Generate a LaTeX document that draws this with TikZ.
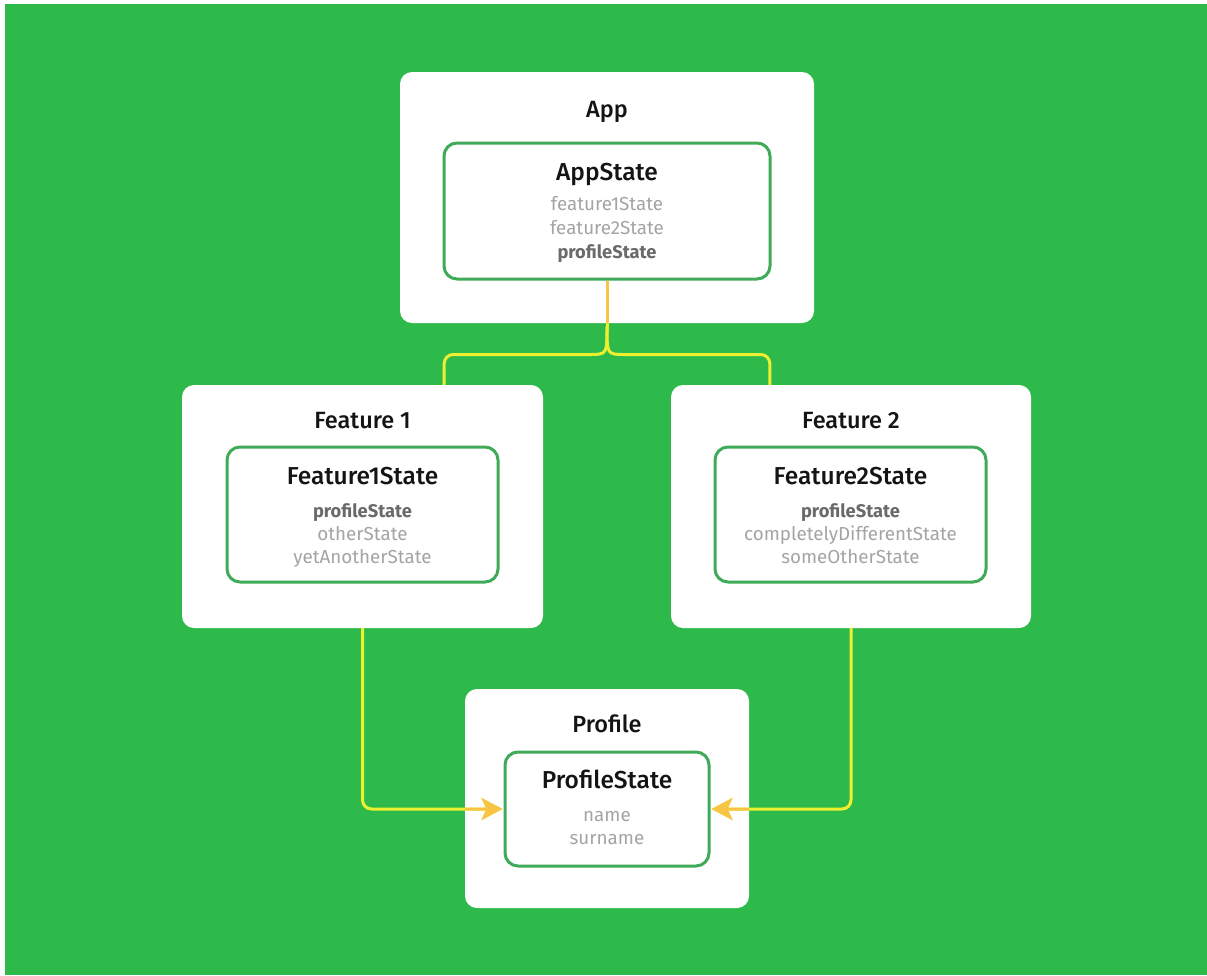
\documentclass[tikz,border=0pt]{standalone}
\usepackage{fontspec}
\setmainfont{Fira Sans}
\newfontfamily\medfont{Fira Sans}[UprightFont=* Medium]
\usetikzlibrary{arrows.meta,calc}

\definecolor{bg}{HTML}{2DBA4A}
\definecolor{frame}{HTML}{3FAA58}
\definecolor{wire}{HTML}{EEEF30}
\definecolor{wireamber}{HTML}{F7C443}
\definecolor{field}{HTML}{A4A4A4}
\definecolor{keyfield}{HTML}{6A6A6A}
\definecolor{ink}{HTML}{141414}

% all connectors, drawn in the colour given as argument
\newcommand\wiring[1]{%
  \draw[conn,draw=#1] (appstate.south) -- (fork);
  \draw[conn,draw=#1] (fork) .. controls ($(fork)+(0,28)$) .. ($(fork)+(-27,28)$) -| (f1top);
  \draw[conn,draw=#1] (fork) .. controls ($(fork)+(0,28)$) .. ($(fork)+(27,28)$) -| (f2top);
  \draw[conn,tip,draw=#1] (f1.south) |- (profstate.west);
  \draw[conn,tip,draw=#1] (f2.south) |- (profstate.east);
}

\begin{document}
\begin{tikzpicture}[x=1pt,y=-1pt,
  module/.style={fill=white, draw=none, rounded corners=12pt, inner sep=0pt},
  statebox/.style={draw=frame, line width=3pt, fill=white, rounded corners=13pt, inner sep=0pt},
  title/.style={anchor=base, text=ink, inner sep=0pt, font=\medfont\fontsize{23.5}{27}\selectfont},
  statetitle/.style={anchor=base, text=ink, inner sep=0pt, font=\medfont\fontsize{24.5}{28}\selectfont},
  fieldtxt/.style={anchor=base, text=field, inner sep=0pt, font=\fontsize{18.8}{22}\selectfont},
  keytxt/.style={anchor=base, text=keyfield, inner sep=0pt, font=\bfseries\fontsize{18.3}{22}\selectfont},
  conn/.style={line width=3pt, rounded corners=9pt},
  tip/.style={-{Stealth[length=21pt,width=22pt,inset=5pt]}, shorten >=1pt}
]
\useasboundingbox (0,0) rectangle (1207,975);
\fill[white] (0,0) rectangle (1207,975);
\fill[bg] (5,4) rectangle (1207,975);

% outer module cards
\node[module, minimum width=414pt, minimum height=251pt] (app) at (607,197.5) {};
\node[module, minimum width=361pt, minimum height=243pt] (f1) at (362.5,506.5) {};
\node[module, minimum width=360pt, minimum height=243pt] (f2) at (851,506.5) {};
\node[module, minimum width=284pt, minimum height=219pt] (prof) at (607,798.5) {};

% state boxes
\node[statebox, minimum width=326pt, minimum height=136pt] (appstate) at (607,211) {};
\node[statebox, minimum width=271pt, minimum height=135pt] (f1state) at (362.5,514.5) {};
\node[statebox, minimum width=271pt, minimum height=135pt] (f2state) at (850.5,514.5) {};
\node[statebox, minimum width=204pt, minimum height=114pt] (profstate) at (607,809) {};

% connector helper points
\coordinate (fork) at ($(appstate.south)+(0,46)$);
\coordinate (f1top) at ($(f1.north east)+(-99,0)$);
\coordinate (f2top) at ($(f2.north west)+(99,0)$);

% connectors: yellow on the background, amber where they cross the cards
\wiring{wire}
\begin{scope}
  \clip (app.south west) rectangle (app.north east)
        (f1.south west) rectangle (f1.north east)
        (f2.south west) rectangle (f2.north east)
        (prof.south west) rectangle (prof.north east);
  \wiring{wireamber}
\end{scope}

% App
\node[title] (tapp) at (607,117) {App};
\node[statetitle] (tappstate) at (607,180) {AppState};
\node[fieldtxt] (a1) at (607,210) {feature1State};
\node[fieldtxt] (a2) at (607,234) {feature2State};
\node[keytxt] (a3) at (607,258) {profileState};

% Feature 1
\node[title] (tf1) at (362.5,428) {Feature 1};
\node[statetitle] (tf1state) at (362.5,484) {Feature1State};
\node[keytxt] (b1) at (362.5,517) {profileState};
\node[fieldtxt] (b2) at (362.5,540) {otherState};
\node[fieldtxt] (b3) at (362.5,563) {yetAnotherState};

% Feature 2
\node[title] (tf2) at (851,428) {Feature 2};
\node[statetitle] (tf2state) at (850.5,484) {Feature2State};
\node[keytxt] (c1) at (850.5,517) {profileState};
\node[fieldtxt] (c2) at (850.5,540) {completelyDifferentState};
\node[fieldtxt] (c3) at (850.5,563) {someOtherState};

% Profile
\node[title] (tprof) at (607,732) {Profile};
\node[statetitle] (tprofstate) at (607,788) {ProfileState};
\node[fieldtxt] (d1) at (607,821) {name};
\node[fieldtxt] (d2) at (607,844) {surname};
\end{tikzpicture}
\end{document}
